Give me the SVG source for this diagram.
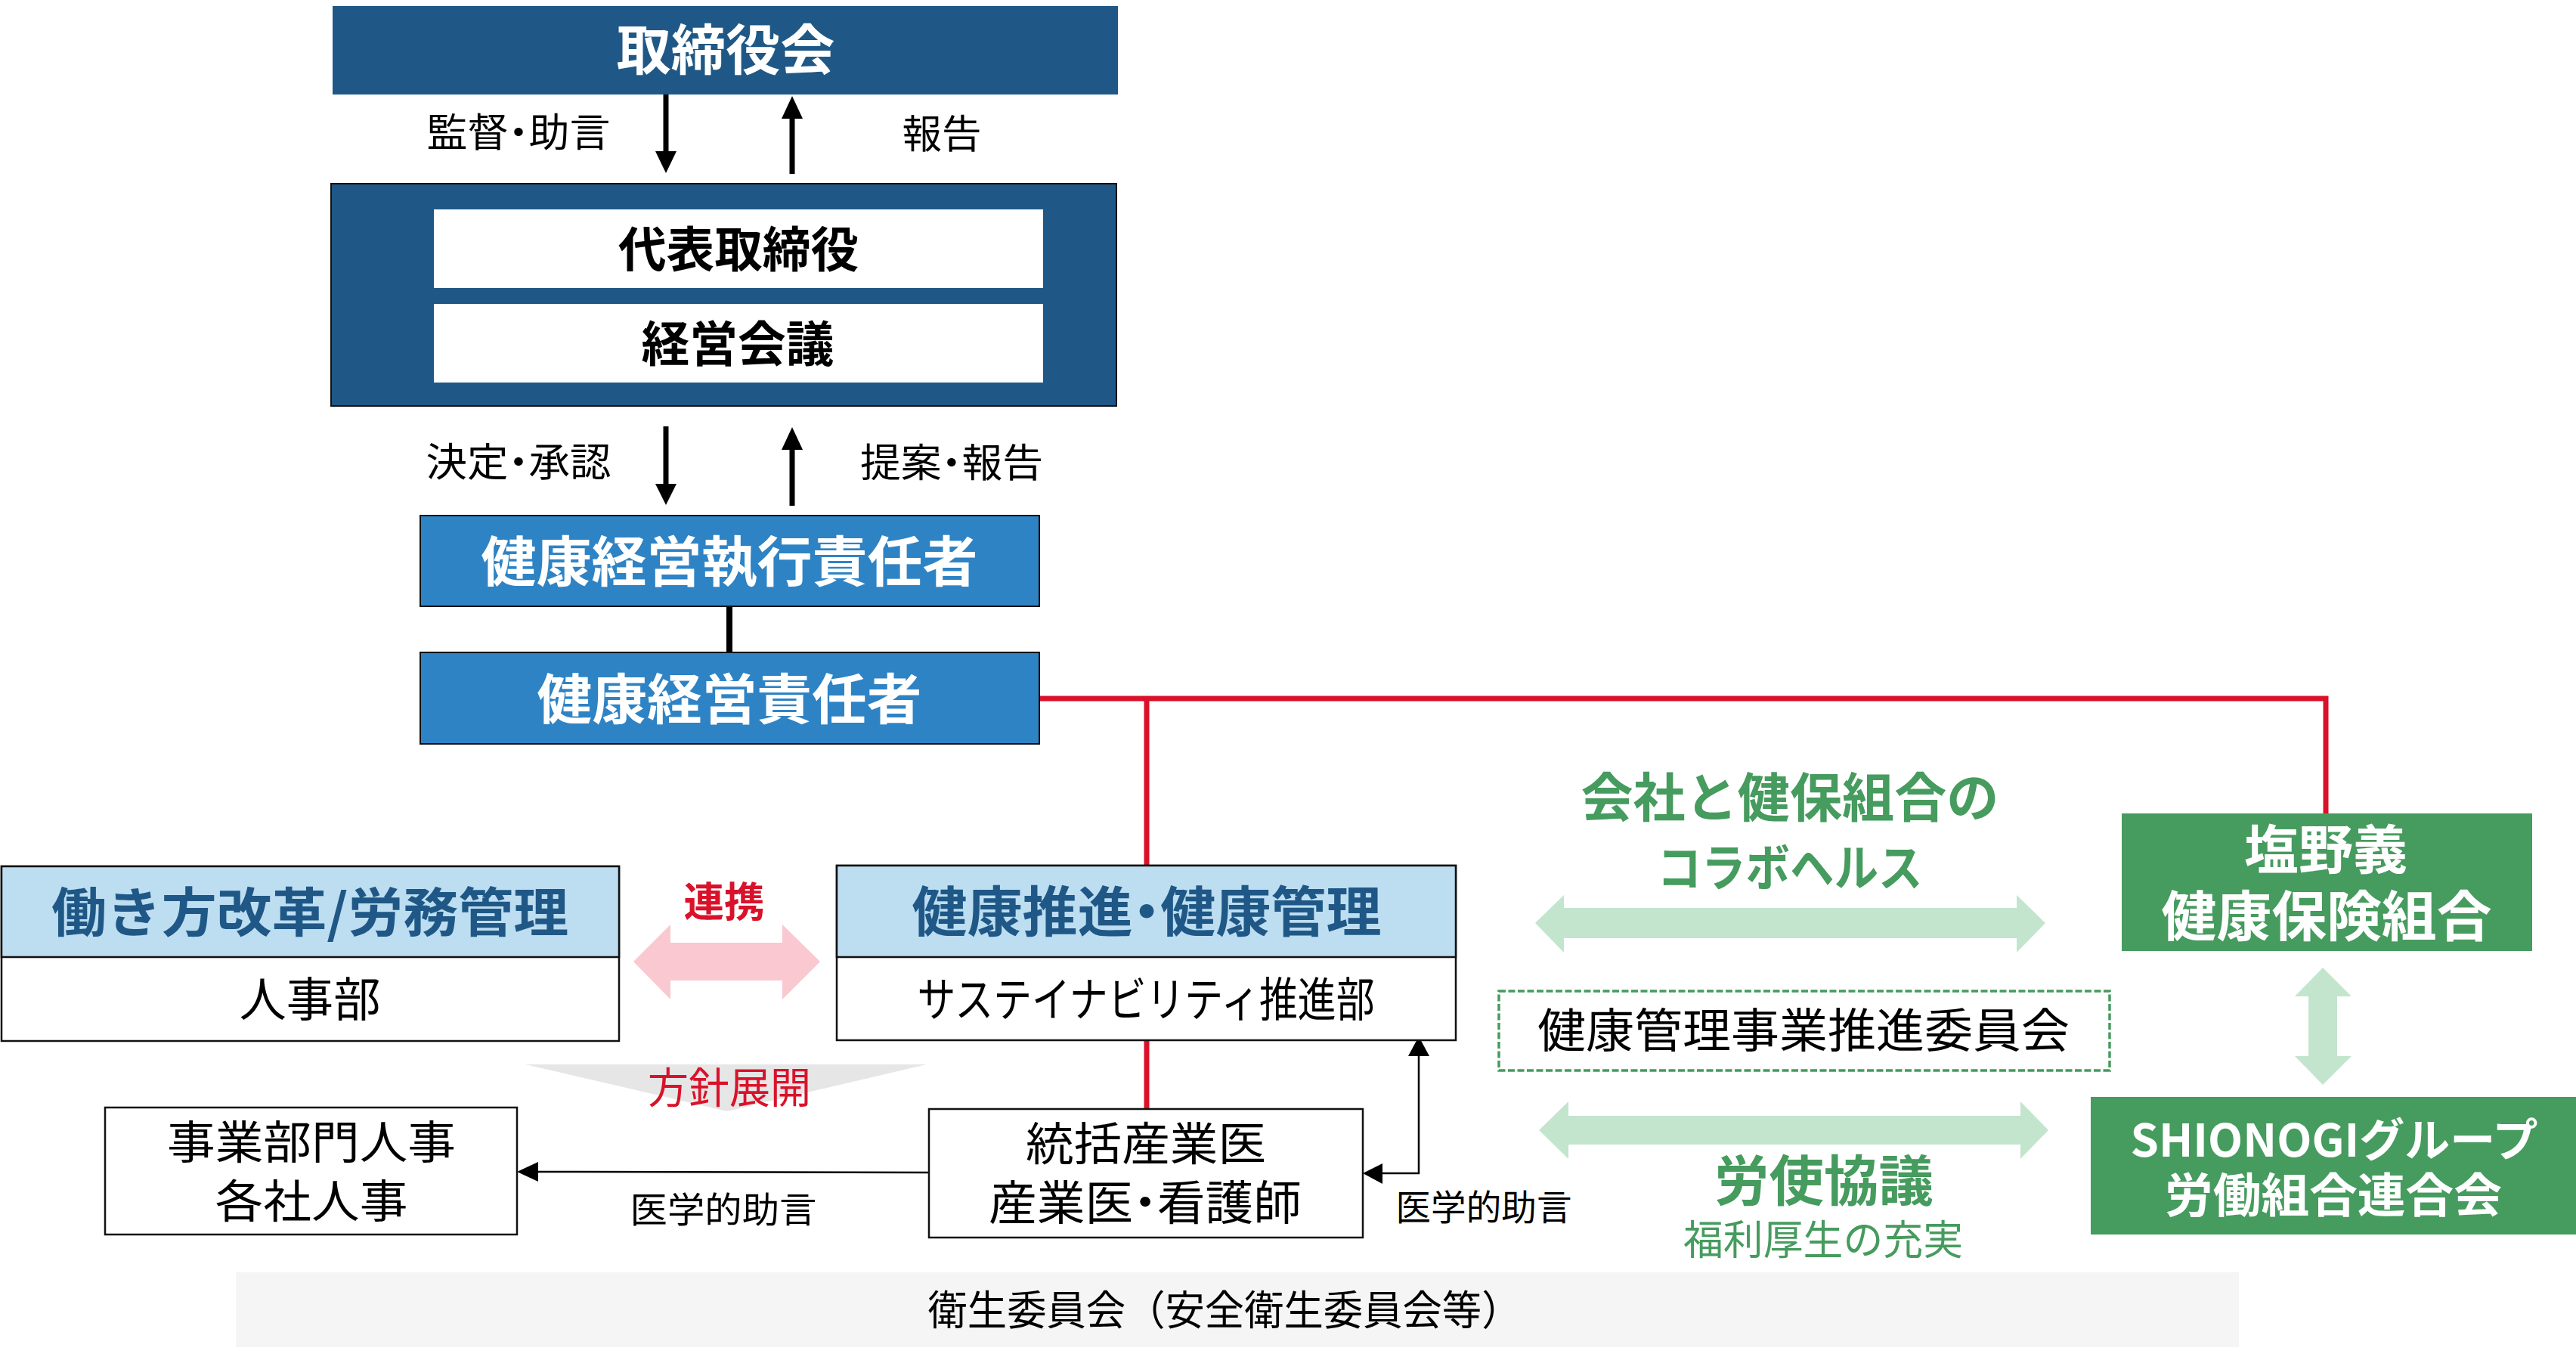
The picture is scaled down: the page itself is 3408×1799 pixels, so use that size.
<svg xmlns="http://www.w3.org/2000/svg" width="3408" height="1799" viewBox="0 0 3408 1799">
<style>
text{font-family:"Noto Sans CJK JP","Noto Sans",sans-serif;text-anchor:middle}
.p{font-feature-settings:"palt"}
.b{font-weight:700}
.w{fill:#fff}
.k{fill:#000}
.db{fill:#1F5886}
.g{fill:#469B5E}
.r{fill:#D9122A}
.navy{fill:#1F5886}
.mid{fill:#2E83C5;stroke:#111;stroke-width:2}
.box{fill:#fff;stroke:#111;stroke-width:2.5}
.hdr{fill:#BDDDF1;stroke:#111;stroke-width:2.5}
.gr{fill:#469B5E}
.red{fill:none;stroke:#D9122A;stroke-width:7}
.blk{fill:none;stroke:#000;stroke-width:7}
.thin{fill:none;stroke:#000;stroke-width:2.5}
.lg{fill:#C3E5CD}
.pk{fill:#F9C8D0}
</style>
<rect x="0" y="0" width="3408" height="1799" fill="#fff"/>

<g id="band">
<rect x="312" y="1683" width="2650" height="99" fill="#F5F5F5"/>
<text x="1620" y="1753" font-size="54" textLength="785" lengthAdjust="spacingAndGlyphs" class="k">衛生委員会（安全衛生委員会等）</text>
</g>

<g id="connectors">
<polyline class="red" points="1375,924 3077,924 3077,1076"/>
<line class="red" x1="1517" y1="924" x2="1517" y2="1145"/>
<line class="red" x1="1517" y1="1376" x2="1517" y2="1467"/>
<line x1="965" y1="802" x2="965" y2="863" stroke="#000" stroke-width="8"/>
<line class="blk" x1="881" y1="125" x2="881" y2="202"/>
<polygon class="k" points="867,200 895,200 881,229"/>
<line class="blk" x1="1048" y1="230" x2="1048" y2="155"/>
<polygon class="k" points="1034,157 1062,157 1048,127"/>
<line class="blk" x1="881" y1="564" x2="881" y2="642"/>
<polygon class="k" points="867,640 895,640 881,668"/>
<line class="blk" x1="1048" y1="669" x2="1048" y2="593"/>
<polygon class="k" points="1034,595 1062,595 1048,565"/>
<line class="thin" x1="1229" y1="1551" x2="710" y2="1550"/>
<polygon class="k" points="684,1550 712,1537 712,1563"/>
<polyline class="thin" points="1827,1552 1877,1552 1877,1395"/>
<polygon class="k" points="1877,1371 1863,1397 1891,1397"/>
<polygon class="k" points="1803,1552 1829,1539 1829,1566"/>
<polygon class="pk" points="838,1272 887,1223 887,1247 1035,1247 1035,1223 1085,1272 1035,1322 1035,1297 887,1297 887,1322"/>
<polygon class="lg" points="2031,1221 2069,1184 2069,1201 2668,1201 2668,1184 2706,1221 2668,1260 2668,1241 2069,1241 2069,1260"/>
<polygon class="lg" points="2036,1495 2075,1457 2075,1476 2673,1476 2673,1457 2710,1495 2673,1533 2673,1514 2075,1514 2075,1533"/>
<polygon class="lg" points="3073,1280 3111,1318 3092,1318 3092,1397 3111,1397 3073,1435 3036,1397 3054,1397 3054,1318 3036,1318"/>
<polygon fill="#E6E6E6" points="695,1408 1226,1408 962,1470"/>
</g>

<g id="board">
<rect x="440" y="8" width="1039" height="117" class="navy"/>
<text x="960" y="92" font-size="72" textLength="289" lengthAdjust="spacingAndGlyphs" class="b w">取締役会</text>
</g>

<g id="label-kantoku"><text x="686" y="194" font-size="52" textLength="243" lengthAdjust="spacingAndGlyphs" class="k p">監督・助言</text></g>
<g id="label-houkoku"><text x="1246" y="196" font-size="52" textLength="105" lengthAdjust="spacingAndGlyphs" class="k">報告</text></g>

<g id="management">
<rect x="438" y="243" width="1039" height="294" class="navy" stroke="#111" stroke-width="2"/>
<rect x="574" y="277" width="806" height="104" fill="#fff"/>
<text x="977" y="353" font-size="64" textLength="318" lengthAdjust="spacingAndGlyphs" class="b k">代表取締役</text>
<rect x="574" y="402" width="806" height="104" fill="#fff"/>
<text x="976" y="478" font-size="64" textLength="255" lengthAdjust="spacingAndGlyphs" class="b k">経営会議</text>
</g>

<g id="label-kettei"><text x="686" y="630" font-size="52" textLength="245" lengthAdjust="spacingAndGlyphs" class="k p">決定・承認</text></g>
<g id="label-teian"><text x="1259" y="631" font-size="52" textLength="242" lengthAdjust="spacingAndGlyphs" class="k p">提案・報告</text></g>

<g id="exec-officer">
<rect x="556" y="682" width="819" height="120" class="mid"/>
<text x="965" y="769" font-size="72" textLength="657" lengthAdjust="spacingAndGlyphs" class="b w">健康経営執行責任者</text>
</g>

<g id="officer">
<rect x="556" y="863" width="819" height="121" class="mid"/>
<text x="965" y="951" font-size="72" textLength="509" lengthAdjust="spacingAndGlyphs" class="b w">健康経営責任者</text>
</g>

<g id="hr">
<rect x="2" y="1146" width="817" height="231" class="box"/>
<rect x="2" y="1146" width="817" height="120" class="hdr"/>
<text x="410" y="1233" font-size="70" textLength="684" lengthAdjust="spacingAndGlyphs" class="b db">働き方改革/労務管理</text>
<text x="410" y="1345" font-size="62" textLength="187" lengthAdjust="spacingAndGlyphs" class="k">人事部</text>
</g>

<g id="label-renkei"><text x="958" y="1213" font-size="54" textLength="107" lengthAdjust="spacingAndGlyphs" class="b r">連携</text></g>

<g id="sustainability">
<rect x="1107" y="1145" width="819" height="231" class="box"/>
<rect x="1107" y="1145" width="819" height="121" class="hdr"/>
<text x="1517" y="1232" font-size="72" textLength="621" lengthAdjust="spacingAndGlyphs" class="b db p">健康推進・健康管理</text>
<text x="1516" y="1345" font-size="62" textLength="605" lengthAdjust="spacingAndGlyphs" class="k">サステイナビリティ推進部</text>
</g>

<g id="label-houshin"><text x="965" y="1459" font-size="56" textLength="216" lengthAdjust="spacingAndGlyphs" class="r">方針展開</text></g>

<g id="division-hr">
<rect x="139" y="1465" width="545" height="168" class="box"/>
<text x="412" y="1533" font-size="60" textLength="382" lengthAdjust="spacingAndGlyphs" class="k">事業部門人事</text>
<text x="412" y="1611" font-size="60" textLength="255" lengthAdjust="spacingAndGlyphs" class="k">各社人事</text>
</g>

<g id="doctors">
<rect x="1229" y="1467" width="574" height="170" class="box"/>
<text x="1516" y="1535" font-size="60" textLength="318" lengthAdjust="spacingAndGlyphs" class="k">統括産業医</text>
<text x="1515" y="1614" font-size="62" textLength="414" lengthAdjust="spacingAndGlyphs" class="k p">産業医・看護師</text>
</g>

<g id="label-igaku1"><text x="957" y="1617" font-size="47" textLength="247" lengthAdjust="spacingAndGlyphs" class="k">医学的助言</text></g>
<g id="label-igaku2"><text x="1963" y="1614" font-size="47" textLength="233" lengthAdjust="spacingAndGlyphs" class="k">医学的助言</text></g>

<g id="label-collabo">
<text x="2368" y="1081" font-size="70" textLength="553" lengthAdjust="spacingAndGlyphs" class="b g">会社と健保組合の</text>
<text x="2368" y="1172" font-size="66" textLength="351" lengthAdjust="spacingAndGlyphs" class="b g">コラボヘルス</text>
</g>

<g id="committee">
<rect x="1983" y="1311" width="808" height="105" fill="none" stroke="#469B5E" stroke-width="3.5" stroke-dasharray="9 3.5"/>
<text x="2386" y="1386" font-size="62" textLength="704" lengthAdjust="spacingAndGlyphs" class="k">健康管理事業推進委員会</text>
</g>

<g id="label-roushi">
<text x="2413" y="1588" font-size="72" textLength="290" lengthAdjust="spacingAndGlyphs" class="b g">労使協議</text>
<text x="2412" y="1660" font-size="54" textLength="370" lengthAdjust="spacingAndGlyphs" class="g">福利厚生の充実</text>
</g>

<g id="health-insurance">
<rect x="2807" y="1076" width="543" height="182" class="gr"/>
<text x="3077" y="1150" font-size="70" textLength="216" lengthAdjust="spacingAndGlyphs" class="b w">塩野義</text>
<text x="3078" y="1238" font-size="72" textLength="437" lengthAdjust="spacingAndGlyphs" class="b w">健康保険組合</text>
</g>

<g id="union">
<rect x="2766" y="1451" width="642" height="182" class="gr"/>
<text x="3088" y="1530" font-size="60" textLength="539" lengthAdjust="spacingAndGlyphs" class="b w">SHIONOGIグループ</text>
<text x="3087" y="1604" font-size="62" textLength="446" lengthAdjust="spacingAndGlyphs" class="b w">労働組合連合会</text>
</g>
</svg>
